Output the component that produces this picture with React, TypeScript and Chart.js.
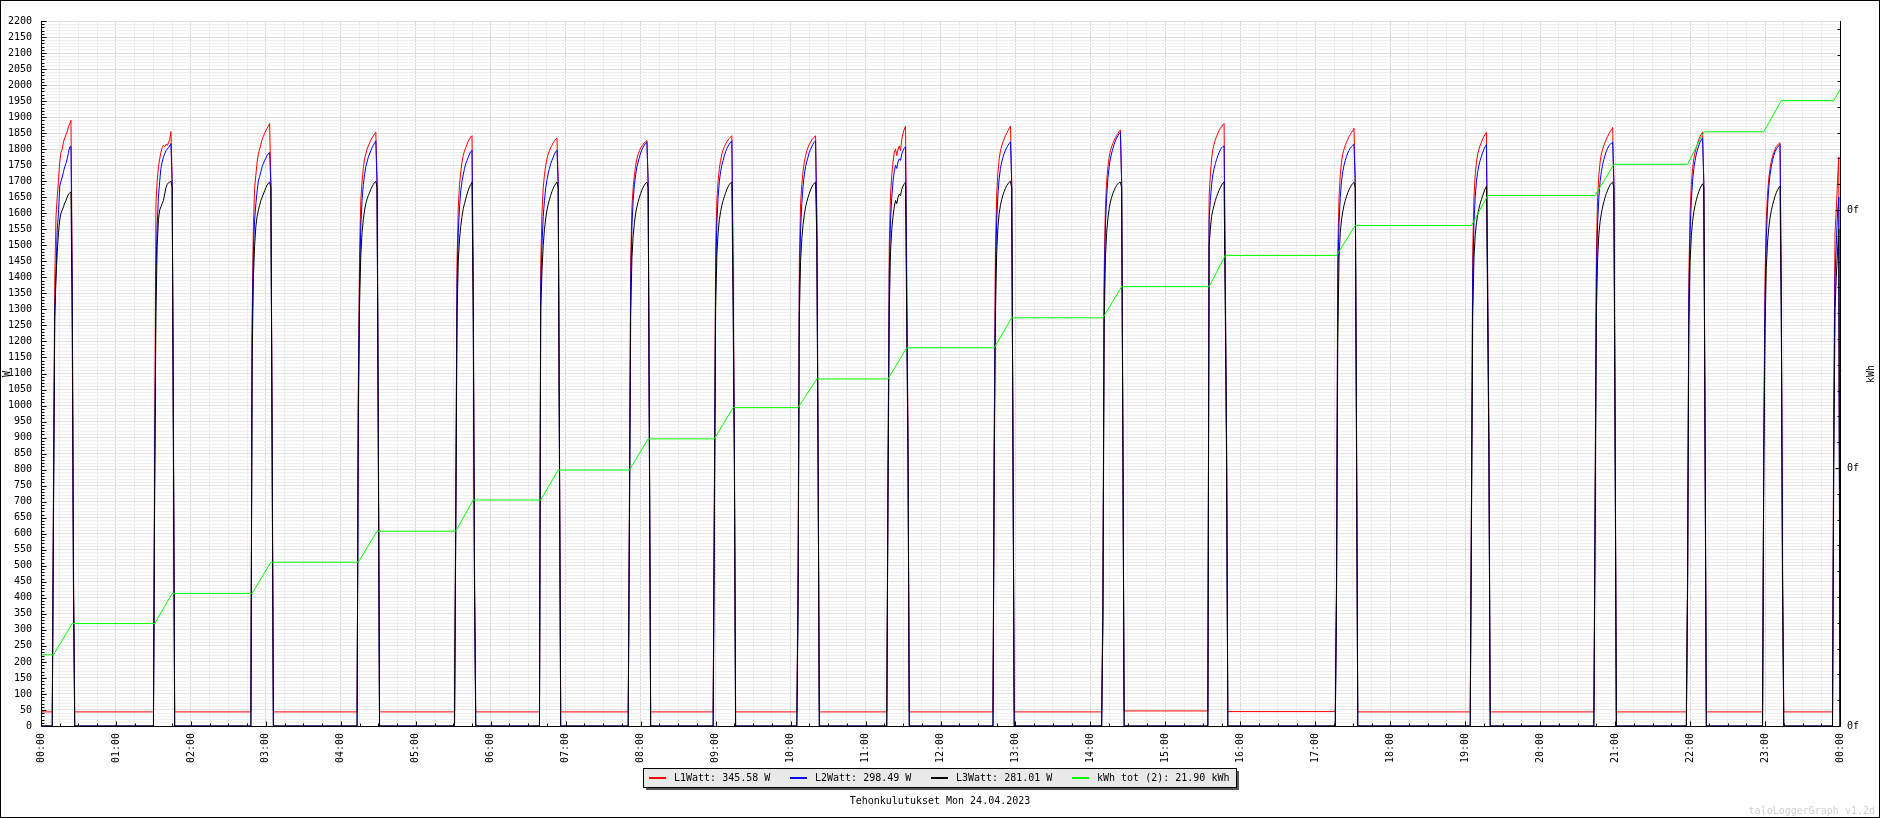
import React, { useEffect, useRef } from 'react';
import { Chart, registerables } from 'chart.js';

Chart.register(...registerables);

const CANVAS_W = 1880;
const CANVAS_H = 818;

// ---- axis settings ----
const wattMax = 2200;
const wattMinorStep = 10;
const wattLabelStep = 50;
const kwhAxisMax = 27.3256;
const minutesInDay = 1440;
const xMinorStep = 15;

// ---- legend / text ----
const seriesNames = ['L1Watt', 'L2Watt', 'L3Watt', 'kWh tot (2)'];
const seriesSummaries = ['345.58 W', '298.49 W', '281.01 W', '21.90 kWh'];
const seriesColors = ['#ff0000', '#0000ff', '#000000', '#00ff00'];
const chartTitle = 'Tehonkulutukset Mon 24.04.2023';
const watermark = 'taloLoggerGraph v1.2d';

// ---- data: heating pulses (minute of first sample) ----
const pulseStart = [10, 91, 169, 254, 332, 400, 471, 539, 606, 678, 763, 850, 935, 1037, 1145, 1244, 1318, 1379, 1435];

// per-minute samples from pulse start: [start transition, ...on values..., end transition top, end transition low]
const l1Pulses: number[][] = [
  [758, 1390, 1590, 1650, 1703, 1760, 1790, 1800, 1823, 1835, 1845, 1855, 1870, 1880, 1890, 1430, 508],
  [843, 1630, 1700, 1745, 1770, 1790, 1805, 1812, 1808, 1815, 1812, 1820, 1830, 1855, 1700, 948],
  [1281, 1560, 1680, 1720, 1760, 1785, 1800, 1815, 1830, 1840, 1850, 1858, 1865, 1872, 1880, 1700, 960],
  [1070, 1480, 1640, 1700, 1740, 1770, 1785, 1800, 1810, 1820, 1828, 1835, 1842, 1848, 1853, 1700, 950],
  [700, 1450, 1620, 1690, 1730, 1760, 1780, 1795, 1805, 1815, 1825, 1832, 1838, 1842, 1400, 490],
  [1440, 1600, 1680, 1720, 1750, 1770, 1785, 1795, 1805, 1812, 1820, 1826, 1831, 1835, 1700, 900],
  [700, 1450, 1620, 1680, 1720, 1750, 1770, 1785, 1795, 1803, 1810, 1815, 1820, 1824, 1827, 1700, 920],
  [750, 1480, 1640, 1700, 1740, 1765, 1785, 1798, 1808, 1816, 1823, 1829, 1834, 1838, 1842, 1450, 900],
  [480, 1450, 1630, 1690, 1730, 1760, 1780, 1795, 1806, 1815, 1822, 1829, 1834, 1838, 1842, 1600, 900],
  [820, 1500, 1660, 1720, 1760, 1790, 1800, 1780, 1800, 1810, 1795, 1830, 1850, 1862, 1872, 1400, 900],
  [920, 1500, 1660, 1730, 1770, 1795, 1810, 1822, 1832, 1842, 1850, 1858, 1865, 1872, 1700, 920],
  [400, 1420, 1620, 1700, 1745, 1775, 1795, 1808, 1818, 1828, 1836, 1843, 1849, 1855, 1860, 1700, 930],
  [1650, 1720, 1770, 1800, 1815, 1830, 1840, 1850, 1858, 1865, 1870, 1876, 1880, 1400, 900],
  [460, 1480, 1650, 1720, 1760, 1785, 1800, 1812, 1822, 1831, 1839, 1846, 1852, 1858, 1865, 1700, 950],
  [720, 1480, 1650, 1720, 1760, 1785, 1800, 1812, 1822, 1832, 1840, 1847, 1853, 1400, 900],
  [740, 1480, 1650, 1720, 1760, 1785, 1800, 1812, 1822, 1831, 1840, 1848, 1855, 1861, 1868, 1700, 950],
  [480, 1400, 1600, 1690, 1740, 1770, 1790, 1805, 1818, 1830, 1840, 1847, 1853, 1700, 960],
  [880, 1400, 1580, 1660, 1710, 1740, 1762, 1778, 1790, 1800, 1808, 1813, 1817, 1820, 1380, 500],
  [1000, 1538, 1610, 1700, 1776],
];
const l2Pulses: number[][] = [
  [700, 1300, 1413, 1550, 1600, 1685, 1700, 1713, 1730, 1745, 1756, 1770, 1790, 1807, 1808, 1355, 450],
  [790, 1420, 1560, 1650, 1700, 1740, 1760, 1775, 1785, 1795, 1800, 1805, 1810, 1817, 1690, 900],
  [1215, 1480, 1580, 1630, 1670, 1700, 1715, 1730, 1745, 1755, 1765, 1772, 1780, 1786, 1790, 1690, 900],
  [1010, 1400, 1560, 1640, 1690, 1720, 1745, 1760, 1775, 1785, 1795, 1805, 1812, 1820, 1826, 1690, 900],
  [650, 1380, 1540, 1620, 1670, 1700, 1720, 1740, 1755, 1765, 1775, 1785, 1792, 1797, 1330, 455],
  [1370, 1500, 1590, 1640, 1680, 1705, 1725, 1740, 1755, 1765, 1775, 1785, 1792, 1797, 1690, 860],
  [655, 1380, 1560, 1640, 1690, 1720, 1745, 1760, 1775, 1788, 1798, 1806, 1813, 1819, 1823, 1690, 885],
  [695, 1400, 1570, 1650, 1700, 1730, 1750, 1765, 1780, 1792, 1802, 1810, 1816, 1822, 1826, 1380, 860],
  [425, 1370, 1550, 1630, 1685, 1720, 1745, 1762, 1776, 1790, 1800, 1808, 1816, 1822, 1826, 1560, 860],
  [775, 1420, 1580, 1650, 1700, 1730, 1750, 1740, 1760, 1770, 1765, 1785, 1795, 1803, 1808, 1300, 860],
  [860, 1420, 1580, 1660, 1710, 1740, 1760, 1775, 1787, 1797, 1805, 1812, 1818, 1823, 1690, 885],
  [365, 1350, 1560, 1650, 1710, 1745, 1770, 1788, 1802, 1815, 1826, 1835, 1842, 1848, 1853, 1690, 890],
  [1580, 1640, 1690, 1720, 1740, 1755, 1768, 1780, 1790, 1798, 1804, 1808, 1810, 1340, 860],
  [430, 1400, 1570, 1650, 1700, 1730, 1750, 1765, 1778, 1788, 1796, 1803, 1808, 1812, 1815, 1690, 900],
  [670, 1400, 1570, 1650, 1700, 1730, 1750, 1765, 1778, 1790, 1800, 1808, 1815, 1340, 860],
  [685, 1400, 1570, 1650, 1700, 1730, 1752, 1768, 1782, 1794, 1803, 1810, 1815, 1819, 1822, 1690, 900],
  [450, 1330, 1540, 1640, 1700, 1740, 1765, 1785, 1800, 1812, 1822, 1830, 1835, 1690, 905],
  [850, 1330, 1520, 1620, 1680, 1720, 1745, 1765, 1780, 1792, 1800, 1806, 1811, 1815, 1330, 465],
  [900, 1400, 1500, 1600, 1650],
];
const l3Pulses: number[][] = [
  [643, 1270, 1400, 1480, 1540, 1579, 1600, 1610, 1620, 1632, 1640, 1650, 1660, 1663, 1667, 1250, 418],
  [739, 1290, 1500, 1580, 1610, 1620, 1630, 1640, 1660, 1680, 1690, 1695, 1697, 1700, 1680, 862],
  [1150, 1400, 1500, 1560, 1590, 1610, 1625, 1640, 1650, 1660, 1670, 1680, 1688, 1694, 1697, 1680, 850],
  [960, 1320, 1470, 1540, 1580, 1610, 1630, 1645, 1655, 1665, 1675, 1683, 1690, 1696, 1700, 1680, 850],
  [600, 1280, 1450, 1520, 1560, 1590, 1615, 1630, 1645, 1660, 1672, 1682, 1690, 1697, 1270, 420],
  [1300, 1420, 1500, 1550, 1585, 1610, 1628, 1643, 1656, 1668, 1678, 1686, 1692, 1697, 1680, 820],
  [610, 1280, 1460, 1530, 1570, 1600, 1620, 1636, 1650, 1662, 1672, 1681, 1688, 1694, 1697, 1680, 850],
  [640, 1300, 1470, 1540, 1580, 1605, 1625, 1640, 1652, 1664, 1674, 1683, 1690, 1695, 1697, 1300, 820],
  [370, 1280, 1450, 1520, 1565, 1595, 1620, 1636, 1650, 1662, 1673, 1682, 1689, 1694, 1697, 1520, 820],
  [730, 1300, 1480, 1550, 1590, 1620, 1640, 1630, 1650, 1660, 1655, 1675, 1685, 1692, 1697, 1250, 820],
  [800, 1300, 1480, 1560, 1600, 1625, 1643, 1657, 1668, 1678, 1686, 1692, 1697, 1700, 1680, 850],
  [330, 1250, 1460, 1540, 1585, 1615, 1635, 1650, 1662, 1672, 1680, 1687, 1692, 1696, 1697, 1680, 850],
  [1500, 1550, 1590, 1610, 1625, 1640, 1652, 1662, 1672, 1680, 1688, 1694, 1697, 1280, 820],
  [400, 1200, 1460, 1540, 1580, 1605, 1625, 1640, 1653, 1664, 1673, 1681, 1688, 1693, 1697, 1680, 850],
  [620, 1280, 1460, 1530, 1570, 1595, 1615, 1630, 1643, 1655, 1666, 1676, 1685, 1280, 820],
  [630, 1290, 1460, 1535, 1575, 1600, 1620, 1636, 1650, 1662, 1672, 1681, 1689, 1694, 1697, 1680, 850],
  [420, 1250, 1450, 1530, 1575, 1605, 1625, 1642, 1656, 1668, 1678, 1686, 1692, 1680, 850],
  [820, 1240, 1430, 1510, 1555, 1585, 1608, 1625, 1640, 1653, 1664, 1673, 1680, 1685, 1280, 430],
  [800, 1300, 1400, 1480, 1550],
];

// idle levels between pulses (before pulse 1, after each pulse)
const l1Idle = [44, 44, 44, 44, 44, 44, 44, 44, 44, 44, 44, 44, 47, 45, 44, 44, 44, 44, 44, 44];
const l2Idle = 0;
const l3Idle = 0;

// cumulative energy (kWh) level before pulse 1, after each pulse, and at end of day
const kwhLevels = [2.76, 3.97, 5.14, 6.35, 7.55, 8.76, 9.92, 11.13, 12.34, 13.45, 14.66, 15.82, 17.03, 18.24, 19.40, 20.56, 21.77, 23.03, 24.24, 24.66];

type Pt = { x: number; y: number };

function buildPower(pulses: number[][], idle: (i: number) => number): Pt[] {
  const pts: Pt[] = [{ x: 0, y: idle(0) }];
  pulses.forEach((arr, i) => {
    const s = pulseStart[i];
    pts.push({ x: s - 1, y: idle(i) });
    arr.forEach((v, j) => pts.push({ x: s + j, y: v }));
    const after = s + arr.length;
    if (after <= minutesInDay) pts.push({ x: after, y: idle(i + 1) });
  });
  const lastIdx = pulses.length - 1;
  const last = pts[pts.length - 1];
  if (last.x < minutesInDay && pulseStart[lastIdx] + pulses[lastIdx].length <= minutesInDay) {
    pts.push({ x: minutesInDay, y: idle(pulses.length) });
  }
  return pts;
}

function buildKwh(): Pt[] {
  const pts: Pt[] = [{ x: 0, y: kwhLevels[0] }];
  l1Pulses.forEach((arr, i) => {
    const s = pulseStart[i];
    pts.push({ x: s, y: kwhLevels[i] });
    const open = s + arr.length > minutesInDay - 1;
    const end = open ? minutesInDay : s + arr.length - 2;
    pts.push({ x: end, y: kwhLevels[i + 1] });
  });
  const last = pts[pts.length - 1];
  if (last.x < minutesInDay) pts.push({ x: minutesInDay, y: last.y });
  return pts;
}

const tickFont = { family: '"DejaVu Sans Mono", monospace', size: 10 };
const monoFont = '10px "DejaVu Sans Mono", monospace';

const PLOT_LEFT = 41;
const PLOT_TOP = 21;
const PLOT_RIGHT = 1840;
const PLOT_BOTTOM = 726;

const decorPlugin = {
  id: 'decor',
  afterDraw(chart: any) {
    const { ctx, chartArea: a, scales } = chart;
    const xs = scales.x;
    const ys = scales.y;
    const y2 = scales.y2;
    const L = Math.round(a.left) + 0.5;
    const R = Math.round(a.right) + 0.5;
    const B = Math.round(a.bottom) + 0.5;
    const T = Math.round(a.top);
    ctx.save();
    ctx.strokeStyle = '#000';
    ctx.lineWidth = 1;
    ctx.beginPath();
    ctx.moveTo(L, T);
    ctx.lineTo(L, B);
    ctx.lineTo(R, B);
    ctx.lineTo(R, T);
    for (let v = 0; v <= wattMax; v += wattMinorStep) {
      const py = Math.round(ys.getPixelForValue(v)) + 0.5;
      const len = v % wattLabelStep === 0 ? 5 : 3;
      ctx.moveTo(L, py);
      ctx.lineTo(L + len, py);
    }
    for (let m = 0; m <= minutesInDay; m += xMinorStep) {
      const px = Math.round(xs.getPixelForValue(m)) + 0.5;
      const len = m % 60 === 0 ? 5 : 3;
      ctx.moveTo(px, B);
      ctx.lineTo(px, B - len);
    }
    for (let k = 0; k <= Math.floor(kwhAxisMax); k += 1) {
      const py = Math.round(y2.getPixelForValue(k)) + 0.5;
      const len = k % 10 === 0 ? 5 : 3;
      ctx.moveTo(R, py);
      ctx.lineTo(R - len, py);
    }
    ctx.stroke();

    // axis unit labels
    ctx.fillStyle = '#000';
    ctx.font = monoFont;
    ctx.textAlign = 'center';
    ctx.textBaseline = 'middle';
    ctx.save();
    ctx.translate(1871, 374);
    ctx.rotate(-Math.PI / 2);
    ctx.fillText('kWh', 0, 0);
    ctx.restore();
    ctx.save();
    ctx.translate(7, 374);
    ctx.rotate(-Math.PI / 2);
    ctx.fillText('W', 0, 0);
    ctx.restore();

    // legend box
    const lx = 643, ly = 768, lw = 593, lh = 19;
    ctx.fillStyle = '#555555';
    ctx.fillRect(lx + 3, ly + 3, lw, lh);
    ctx.fillStyle = '#e9e9e9';
    ctx.fillRect(lx, ly, lw, lh);
    ctx.strokeStyle = '#000';
    ctx.strokeRect(lx + 0.5, ly + 0.5, lw, lh);
    ctx.font = monoFont;
    ctx.textAlign = 'left';
    ctx.textBaseline = 'middle';
    const itemX = [649, 790, 931, 1072];
    seriesNames.forEach((name, i) => {
      const ix = itemX[i];
      ctx.fillStyle = seriesColors[i];
      ctx.fillRect(ix, 777, 17, 2);
      ctx.fillStyle = '#000';
      ctx.fillText(`${name}: ${seriesSummaries[i]}`, ix + 25, 778);
    });

    // title
    ctx.textAlign = 'center';
    ctx.fillText(chartTitle, 940, 801);

    // watermark
    ctx.fillStyle = '#d0d0d0';
    ctx.font = monoFont;
    ctx.textAlign = 'right';
    ctx.fillText(watermark, 1875, 811);

    // outer frame
    ctx.strokeStyle = '#000';
    ctx.strokeRect(0.5, 0.5, CANVAS_W - 1, CANVAS_H - 1);
    ctx.restore();
  },
};

export default function App() {
  const ref = useRef<HTMLCanvasElement | null>(null);
  useEffect(() => {
    if (!ref.current) return;
    const datasets: any[] = [
      { data: buildPower(l1Pulses, (i) => l1Idle[Math.min(i, l1Idle.length - 1)]), order: 4 },
      { data: buildPower(l2Pulses, () => l2Idle), order: 3 },
      { data: buildPower(l3Pulses, () => l3Idle), order: 2 },
    ].map((d, i) => ({
      label: seriesNames[i],
      data: d.data,
      borderColor: seriesColors[i],
      backgroundColor: seriesColors[i],
      borderWidth: 1,
      pointRadius: 0,
      tension: 0,
      order: d.order,
      yAxisID: 'y',
    }));
    datasets.push({
      label: seriesNames[3],
      data: buildKwh(),
      borderColor: seriesColors[3],
      backgroundColor: seriesColors[3],
      borderWidth: 1,
      pointRadius: 0,
      tension: 0,
      order: 1,
      yAxisID: 'y2',
    });
    const chart = new Chart(ref.current, {
      type: 'line',
      data: { datasets },
      options: {
        animation: false,
        responsive: false,
        maintainAspectRatio: false,
        devicePixelRatio: 1,
        events: [],
        layout: { padding: { top: PLOT_TOP, left: 0, right: 0, bottom: 0 } },
        plugins: { legend: { display: false }, tooltip: { enabled: false }, title: { display: false } },
        scales: {
          x: {
            type: 'linear',
            min: 0,
            max: minutesInDay,
            border: { display: false },
            grid: {
              drawTicks: false,
              lineWidth: 1,
              color: (c: any) => (c.tick && c.tick.value % 60 === 0 ? '#d9d9d9' : '#ececec'),
            },
            ticks: {
              stepSize: xMinorStep,
              autoSkip: false,
              minRotation: 90,
              maxRotation: 90,
              padding: 7,
              color: '#000',
              font: tickFont,
              callback: (v: any) => {
                const m = Number(v);
                if (m % 60 !== 0) return '';
                const h = (m / 60) % 24;
                return `${String(h).padStart(2, '0')}:00`;
              },
            },
            afterFit: (s: any) => {
              s.height = CANVAS_H - PLOT_BOTTOM;
            },
          },
          y: {
            position: 'left',
            min: 0,
            max: wattMax,
            border: { display: false },
            grid: {
              drawTicks: false,
              lineWidth: 1,
              color: (c: any) => (c.tick && c.tick.value % wattLabelStep === 0 ? '#e1e1e1' : '#f0f0f0'),
            },
            ticks: {
              stepSize: wattMinorStep,
              autoSkip: false,
              padding: 9,
              color: '#000',
              font: tickFont,
              callback: (v: any) => (Number(v) % wattLabelStep === 0 ? String(v) : ''),
            },
            afterFit: (s: any) => {
              s.width = PLOT_LEFT;
            },
          },
          y2: {
            position: 'right',
            min: 0,
            max: kwhAxisMax,
            border: { display: false },
            grid: { display: false, drawTicks: false },
            ticks: {
              stepSize: 1,
              autoSkip: false,
              padding: 7,
              color: '#000',
              font: tickFont,
              callback: (v: any) => (Math.abs(Number(v) % 10) < 1e-6 ? '0f' : ''),
            },
            afterFit: (s: any) => {
              s.width = CANVAS_W - PLOT_RIGHT;
            },
          },
        },
      },
      plugins: [decorPlugin],
    } as any);
    return () => chart.destroy();
  }, []);
  return (
    <div style={{ position: 'absolute', left: 0, top: 0, width: CANVAS_W, height: CANVAS_H, background: '#fff' }}>
      <canvas ref={ref} width={CANVAS_W} height={CANVAS_H} style={{ width: CANVAS_W, height: CANVAS_H, display: 'block' }} />
    </div>
  );
}
